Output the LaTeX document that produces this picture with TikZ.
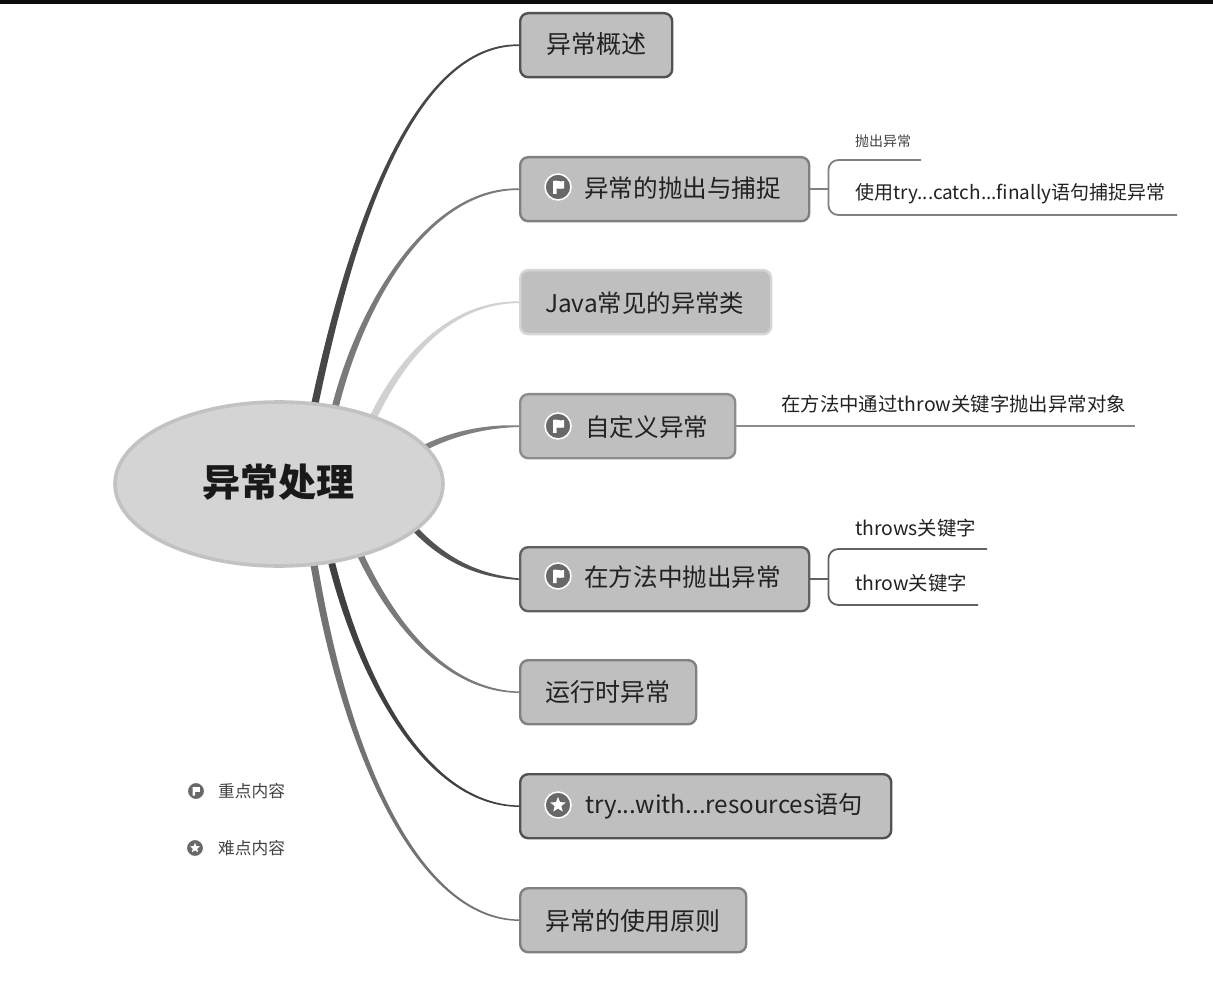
\documentclass[tikz,border=0pt]{standalone}
\usepackage{fontspec}
\setmainfont{Noto Sans CJK SC}
\usetikzlibrary{calc,backgrounds,shapes.geometric}
\newcommand{\fpx}[1]{\fontsize{#1}{#1}\selectfont}
\definecolor{boxfill}{HTML}{BFBFBF}
\definecolor{ink}{HTML}{222222}
\definecolor{icongray}{HTML}{686868}
\newcommand{\taper}[8]{%
  \fill[#5] ($(#1)+(#6,#7)$) .. controls ($(#2)+(.9*#6,.9*#7)$) and ($(#3)+(0,2.2*#8)$) .. ($(#4)+(0,#8)$)
    -- ($(#4)+(0,-1*#8)$) .. controls ($(#3)+(0,-2.2*#8)$) and ($(#2)+(-.9*#6,-.9*#7)$) .. ($(#1)+(-1*#6,-1*#7)$) -- cycle;}
\newcommand{\flagicon}[4]{% name, x, y, radius
  \node[circle,fill=icongray,draw=white,line width=.12*#4 pt,minimum size=2*#4 pt,inner sep=0pt] (#1) at (#2,#3) {};
  \fill[white,shift={(#2,#3)},scale=#4/13] (-5,-6) .. controls (-2,-7.5) and (2,-4.5) .. (6,-6) -- (6,1.5) .. controls (3,2.8) and (1,1) .. (-1.5,1.5) -- (-1.5,7) -- (-5,7) -- cycle;}
\newcommand{\staricon}[4]{%
  \node[circle,fill=icongray,draw=white,line width=.12*#4 pt,minimum size=2*#4 pt,inner sep=0pt] (#1) at (#2,#3) {};
  \node[star,star points=5,star point ratio=2.3,fill=white,minimum size=1.25*#4 pt,inner sep=0pt] (#1s) at (#2,#3) {};}
\tikzset{
  topic/.style={draw,fill=boxfill,rounded corners=8pt,line width=2.4pt,anchor=north west,inner sep=0pt},
  lab/.style={anchor=west,inner sep=0pt,text=ink,font=\fpx{25}},
  sub/.style={anchor=west,inner sep=0pt,text=ink,font=\fpx{19.4}},
  small/.style={anchor=west,inner sep=0pt,text=ink!85,font=\fpx{16.7}},
  branch/.style={line width=1.8pt,color=#1},
}
\begin{document}
\begin{tikzpicture}[x=1pt,y=-1pt]
\useasboundingbox (0,0) rectangle (1213,981);
% centre
\node[ellipse,draw=black!24,fill=black!17,line width=3.6pt,minimum width=328pt,minimum height=164pt,inner sep=0pt] (root) at (279,484) {};
\node[inner sep=0pt,font=\fpx{38}\bfseries,text=black!90] (roott) at (278,482) {异常处理};
% topics
\node[topic,draw=black!68,minimum width=152pt,minimum height=64pt] (t1) at (519,12) {};
\node[topic,draw=black!50,minimum width=289pt,minimum height=64pt] (t2) at (519,156) {};
\node[topic,draw=black!16,minimum width=251pt,minimum height=64pt] (t3) at (519,269) {};
\node[topic,draw=black!45,minimum width=215pt,minimum height=64pt] (t4) at (519,393) {};
\node[topic,draw=black!62,minimum width=289pt,minimum height=64pt] (t5) at (519,546) {};
\node[topic,draw=black!50,minimum width=176pt,minimum height=64pt] (t6) at (519,659) {};
\node[topic,draw=black!68,minimum width=371pt,minimum height=64pt] (t7) at (519,773) {};
\node[topic,draw=black!50,minimum width=226pt,minimum height=64pt] (t8) at (519,887) {};
% topic labels
\node[lab] (l1) at (546,44) {异常概述};
\node[lab,font=\fpx{24.6}] (l2) at (584,188) {异常的抛出与捕捉};
\node[lab,font=\fpx{24.4}] (l3) at (545,303) {Java常见的异常类};
\node[lab,font=\fpx{24.6}] (l4) at (585,427) {自定义异常};
\node[lab,font=\fpx{24.6}] (l5) at (584,577) {在方法中抛出异常};
\node[lab] (l6) at (545,692) {运行时异常};
\node[lab,font=\fpx{24.2}] (l7) at (585,806) {try...with...resources语句};
\node[lab] (l8) at (545,921) {异常的使用原则};
% icons
\flagicon{i2}{558}{187}{13}
\flagicon{i4}{558}{426}{13}
\flagicon{i5}{558}{576}{13}
\staricon{i7}{558}{805}{13}
% legend
\flagicon{k1}{196}{791}{8.5}
\staricon{k2}{195}{848}{8.5}
\node[small] (kl1) at (218,791) {重点内容};
\node[small] (kl2) at (218,848) {难点内容};
% sub topics
\node[anchor=west,inner sep=0pt,text=ink!85,font=\fpx{14}] (s1) at (855,141) {抛出异常};
\node[sub,font=\fpx{19}] (s2) at (855,194) {使用try...catch...finally语句捕捉异常};
\node[sub] (s3) at (781,404) {在方法中通过throw关键字抛出异常对象};
\node[sub] (s4) at (855,528) {throws关键字};
\node[sub] (s5) at (855,583) {throw关键字};
\coordinate (j2) at ($(t2.east)+(18,0)$);
\coordinate (j5) at ($(t5.east)+(18,0)$);
\coordinate (e1) at (921,160);
\coordinate (e2) at (1177,215);
\coordinate (e3) at ($(t4.east)+(399,0)$);
\coordinate (e4) at (987,549);
\coordinate (e5) at (978,605);
\draw[branch=black!50] (t2.east) -- (j2);
\draw[branch=black!50,rounded corners=10pt] (j2) |- (e1);
\draw[branch=black!50,rounded corners=10pt] (j2) |- (e2);
\draw[branch=black!45] (t4.east) -- (e3);
\draw[branch=black!62] (t5.east) -- (j5);
\draw[branch=black!62,rounded corners=10pt] (j5) |- (e4);
\draw[branch=black!62,rounded corners=10pt] (j5) |- (e5);
% tapered main branches
\coordinate (a1) at (314,408); \coordinate (a2) at (335,408); \coordinate (a3) at (372,420);
\coordinate (a4) at (424,448); \coordinate (a5) at (412,526); \coordinate (a6) at (358,550);
\coordinate (a7) at (329,552); \coordinate (a8) at (312,552);
\begin{scope}[on background layer]
\fill[white] (0,0) rectangle (1213,981);
\fill[black!95] (0,0) rectangle (1213,4);
\taper{a1}{345,260}{405,44}{t1.west}{black!72}{-3.6}{-.5}{-.8}
\taper{a2}{362,300}{430,188}{t2.west}{black!52}{-3.4}{-.6}{-.8}
\taper{a3}{405,350}{455,302}{t3.west}{black!18}{-3.4}{-1.4}{-.8}
\taper{a4}{455,432}{490,426}{t4.west}{black!50}{-1.2}{-2.6}{-.8}
\taper{a5}{445,562}{480,576}{t5.west}{black!68}{-2}{2.2}{.8}
\taper{a6}{395,630}{450,691}{t6.west}{black!52}{-3}{1.3}{.7}
\taper{a7}{362,690}{430,805}{t7.west}{black!75}{-3.4}{.6}{.7}
\taper{a8}{345,760}{420,919}{t8.west}{black!55}{-3.6}{.4}{.7}
\end{scope}
\end{tikzpicture}
\end{document}
